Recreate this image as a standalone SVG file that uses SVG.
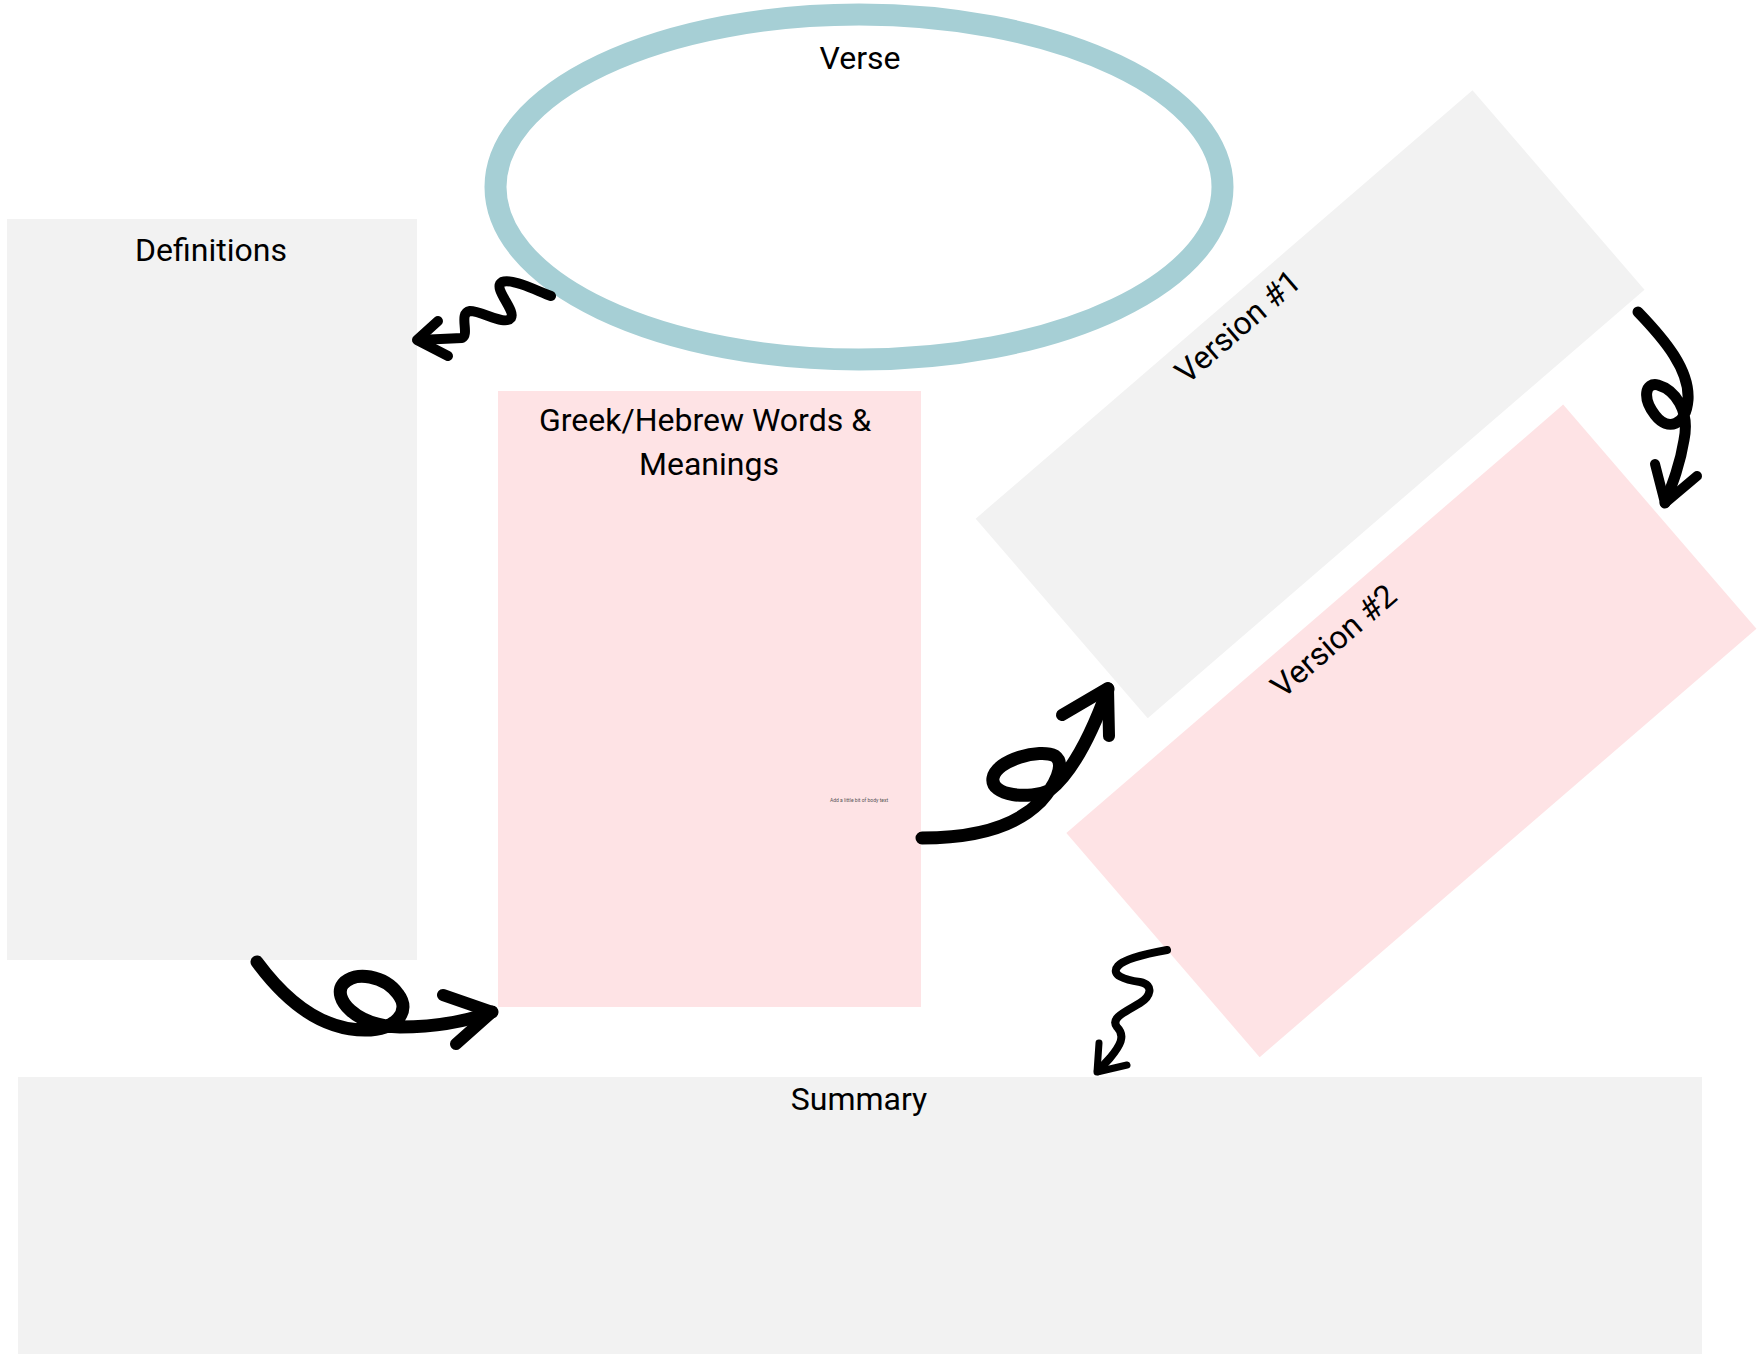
<svg xmlns="http://www.w3.org/2000/svg" width="1762" height="1354" viewBox="0 0 1762 1354">
<style>
.gray{fill:#f2f2f2}
.pink{fill:#fee3e5}
.lbl{font-family:Roboto,"Liberation Sans",sans-serif;font-size:32px;fill:#000;text-anchor:middle}
.arw{fill:none;stroke:#000;stroke-linecap:round;stroke-linejoin:round}
</style>
<rect width="1762" height="1354" fill="#fff"/>
<g id="verse">
<ellipse cx="859" cy="187" rx="363.5" ry="172.5" fill="#fff" stroke="#a6cfd5" stroke-width="22"/>
<text class="lbl" x="860" y="69" font-size="33">Verse</text>
</g>
<g id="definitions">
<rect class="gray" x="7" y="219" width="410" height="741"/>
<text class="lbl" x="211" y="261">Definitions</text>
</g>
<g id="greek">
<rect class="pink" x="498" y="391" width="423" height="616"/>
<text class="lbl" x="705" y="431">Greek/Hebrew Words &amp;</text>
<text class="lbl" x="709" y="475">Meanings</text>
<text x="859" y="802" font-family="Roboto,'Liberation Sans',sans-serif" font-size="5" fill="#555" text-anchor="middle">Add a little bit of body text</text>
</g>
<g id="version1" transform="translate(1310.1,404.2) rotate(-40.77)">
<rect class="gray" x="-328" y="-131.7" width="656" height="263.4"/>
<text class="lbl" x="-4" y="-95">Version #1</text>
</g>
<g id="version2" transform="translate(1411.4,730.9) rotate(-40.77)">
<rect class="pink" x="-328" y="-148" width="656" height="296"/>
<text class="lbl" x="0" y="-108">Version #2</text>
</g>
<g id="summary">
<rect class="gray" x="18" y="1077" width="1684" height="277"/>
<text class="lbl" x="859" y="1110">Summary</text>
</g>
<g id="connectors">
<path class="arw" stroke-width="10" d="M551,296 C535,290 512,278 502,282 C492,288 516,310 511,318 C505,326 482,311 470,311 C458,313 470,334 462,338 L419,340"/>
<path class="arw" stroke-width="10" d="M438,321 L417,340 L448,356"/>
<path class="arw" stroke-width="13" d="M257,962 C285,1000 320,1030 365,1030 C395,1030 412,1012 398,994 C385,976 355,970 343,984 C332,998 355,1026 400,1027 C440,1027 470,1020 492,1012"/>
<path class="arw" stroke-width="12" d="M443,995 L492,1012 L456,1044"/>
<path class="arw" stroke-width="13" d="M922,838 C965,838 1012,830 1040,802 C1055,786 1066,764 1055,756 C1040,748 996,760 993,778 C990,796 1030,800 1050,790 C1075,770 1095,725 1108,689"/>
<path class="arw" stroke-width="12" d="M1062,715 L1108,688 L1109,736"/>
<path class="arw" stroke-width="11" d="M1638,312 C1665,340 1690,370 1688,400 C1686,425 1668,432 1655,415 C1642,398 1645,382 1658,385 C1675,390 1690,410 1684,440 C1680,465 1672,485 1665,503"/>
<path class="arw" stroke-width="10" d="M1655,464 L1665,503 L1697,476"/>
<path class="arw" stroke-width="8" d="M1167,950 C1150,953 1125,958 1118,966 C1110,975 1125,980 1140,982 C1155,985 1150,997 1140,1003 C1125,1012 1110,1018 1117,1027 C1126,1036 1120,1046 1110,1058 L1098,1071"/>
<path class="arw" stroke-width="7" d="M1099,1043 L1097,1072 L1127,1065"/>
</g>
</svg>
